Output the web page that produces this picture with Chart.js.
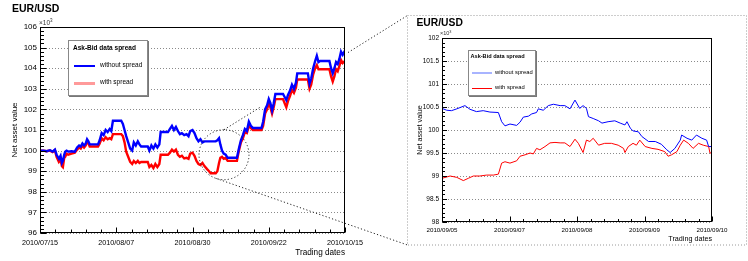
<!DOCTYPE html>
<html>
<head>
<meta charset="utf-8">
<script src="https://cdn.jsdelivr.net/npm/chart.js@4/dist/chart.umd.min.js"></script>
<style>
  body { margin: 0; background: #fff; }
  #wrap { position: relative; width: 748px; height: 261px; overflow: hidden; background: #fff;
          font-family: "Liberation Sans", Arial, sans-serif; color: #000; }
  canvas { position: absolute; }
  .t { position: absolute; white-space: nowrap; line-height: 1; }
  .box { position: absolute; background: #fff; border: 1px solid #888; box-shadow: 1px 1px 0 #777; }
  .sample { position: absolute; }
  sup { font-size: 70%; vertical-align: 0; position: relative; top: -0.6em; }
</style>
</head>
<body>
<div id="wrap">
  <canvas id="main" width="374" height="261" style="left:0;top:0"></canvas>
  <canvas id="inset" width="340" height="230" style="left:407px;top:15px"></canvas>
  <canvas id="overlay" width="748" height="261" style="left:0;top:0;pointer-events:none"></canvas>

  <div class="t" style="left:12px;top:2.6px;font-size:10.5px;font-weight:bold">EUR/USD</div>
  <div class="t" style="left:39px;top:20px;font-size:6.5px;color:#333">&times;10<sup>3</sup></div>
  <div class="box" style="left:68px;top:40px;width:78px;height:54px"></div>
  <div class="t" style="left:73px;top:44.6px;font-size:6.5px;font-weight:bold">Ask-Bid data spread</div>
  <div class="sample" style="left:74px;top:65px;width:21px;height:1.5px;background:#0000ff"></div>
  <div class="t" style="left:100px;top:62px;font-size:6.5px">without spread</div>
  <div class="sample" style="left:74px;top:81.5px;width:21px;height:3px;background:#ff9a9a"></div>
  <div class="t" style="left:100px;top:79px;font-size:6.5px">with spread</div>

  <div class="t" style="left:416.5px;top:18px;font-size:10.3px;font-weight:bold">EUR/USD</div>
  <div class="t" style="left:440px;top:31px;font-size:5.5px;color:#333">&times;10<sup>3</sup></div>
  <div class="box" style="left:468px;top:50px;width:66px;height:44px"></div>
  <div class="t" style="left:470.5px;top:53.6px;font-size:5.6px;font-weight:bold">Ask-Bid data spread</div>
  <div class="sample" style="left:472px;top:71.5px;width:20px;height:2.5px;background:#a8b4ff"></div>
  <div class="t" style="left:495px;top:69.5px;font-size:5.8px">without spread</div>
  <div class="sample" style="left:472px;top:88px;width:20px;height:1px;background:#ff0000"></div>
  <div class="t" style="left:495px;top:85px;font-size:5.8px">with spread</div>
</div>
<script>
// ---- data ----
const mainTickLabels = ["2010/07/15", "2010/08/07", "2010/08/30", "2010/09/22", "2010/10/15"];
const insetTickLabels = ["2010/09/05", "2010/09/07", "2010/09/08", "2010/09/09", "2010/09/10"];

// days since 2010/07/15
const mainDays = [0,1,2,3,3.8,4.5,5,5.7,6.2,6.6,
  6.9,7.3,7.6,8,8.5,9.5,10.5,11.2,11.8,12.3,
  12.8,13.3,13.8,14.2,14.6,15,17.5,18,18.6,19.2,
  19.8,20.4,21,21.5,22,24.5,25,25.5,26,26.6,
  27.2,27.8,28.3,28.9,29.5,30,30.5,32.5,33,33.6,
  34.2,34.8,35.4,36,36.4,38.6,39.2,39.8,40.4,41,
  41.6,42.2,42.8,43.5,44.2,44.8,45.3,46,46.6,47.2,
  47.8,48.4,49,49.6,50.4,51,51.5,53,53.5,54,
  54.4,54.9,55.4,56,56.6,59.4,60,60.6,61.2,61.8,
  62.4,63,63.6,64.2,66.8,67.3,67.9,68.5,69,69.5,
  70,70.5,71,73.3,73.8,74.3,74.8,75.4,76,76.6,
  77.2,77.6,80.8,81.3,81.8,82.4,83,83.5,84,84.5,
  87.3,87.8,88.3,88.8,89.3,89.8,90.3,90.8,91.3,92];
const mainNoSpread = [100.0,100.0,99.97,100.02,99.95,100.05,99.8,99.6,99.75,99.4,
  99.5,99.8,99.95,100.0,99.95,99.97,99.95,100.15,100.25,100.2,
  100.35,100.25,100.35,100.55,100.45,100.3,100.3,100.5,100.85,100.75,
  101.0,100.9,101.05,100.95,101.45,101.45,101.3,101.0,100.7,100.4,
  100.1,100.0,100.4,100.25,100.45,100.3,100.2,100.2,100.0,100.25,
  100.1,100.3,100.15,100.3,100.9,100.9,101.05,101.2,101.0,101.15,
  100.95,100.8,100.85,100.75,100.8,100.7,100.95,101.0,100.85,100.6,
  100.45,100.55,100.4,100.45,100.45,100.45,100.45,100.45,100.5,100.6,
  100.3,100.0,99.85,99.8,99.65,99.65,100.1,100.5,100.75,101.05,
  100.95,101.4,101.2,101.1,101.1,101.4,102.0,102.2,102.5,102.3,
  101.95,102.3,102.75,102.75,102.6,102.45,102.7,102.9,103.2,103.0,
  103.3,103.75,103.75,103.25,103.5,104.0,104.35,104.6,104.3,104.35,
  104.35,104.0,103.75,104.0,104.3,104.2,104.45,104.8,104.65,104.85];
const mainSpread = [100.0,100.0,99.97,100.0,99.93,100.02,99.7,99.45,99.55,99.25,
  99.2,99.65,99.7,99.85,99.8,99.85,99.9,100.05,100.15,100.1,
  100.25,100.15,100.25,100.45,100.35,100.2,100.2,100.35,100.6,100.5,
  100.65,100.55,100.6,100.55,100.8,100.8,100.7,100.4,99.95,99.7,
  99.45,99.35,99.5,99.4,99.5,99.4,99.45,99.45,99.2,99.3,
  99.15,99.35,99.2,99.35,99.8,99.8,99.9,100.05,99.95,100.05,
  99.8,99.7,99.75,99.62,99.65,99.6,99.85,99.9,99.75,99.5,
  99.35,99.3,99.4,99.25,99.1,99.0,98.9,98.9,99.0,99.4,
  99.65,99.7,99.6,99.65,99.5,99.5,100.0,100.4,100.6,100.9,
  100.85,101.2,101.1,101.0,101.0,101.2,101.8,102.0,102.3,102.1,
  101.8,102.1,102.5,102.5,102.3,102.1,102.4,102.65,102.95,102.8,
  103.05,103.45,103.45,103.0,103.2,103.7,104.0,104.15,103.95,103.95,
  103.95,103.6,103.35,103.6,103.95,103.85,104.1,104.4,104.25,104.35];

// inset: trading-day index, 0 = 2010/09/05 ... 4 = 2010/09/10
const insetTimeNoSpread = [0,0.07,0.14,0.22,0.34,0.415,0.51,0.61,0.71,0.835,
  0.884,0.933,1.007,1.106,1.156,1.205,1.28,1.33,1.40,1.427,
  1.5,1.575,1.65,1.75,1.82,1.896,1.97,2.04,2.09,2.14,
  2.17,2.24,2.32,2.37,2.46,2.56,2.64,2.71,2.74,2.79,
  2.83,2.91,2.96,3.06,3.16,3.25,3.33,3.38,3.45,3.53,
  3.55,3.63,3.70,3.77,3.85,3.92,3.95,4.0];
const insetNoSpread = [100.47,100.43,100.42,100.46,100.53,100.45,100.40,100.42,100.39,100.38,
  100.18,100.09,100.13,100.10,100.17,100.28,100.30,100.35,100.38,100.46,
  100.43,100.53,100.56,100.53,100.53,100.46,100.65,100.47,100.53,100.47,
  100.29,100.25,100.20,100.15,100.18,100.20,100.15,100.11,100.18,100.04,
  99.98,99.96,99.86,99.75,99.75,99.69,99.57,99.51,99.60,99.78,
  99.89,99.82,99.78,99.89,99.82,99.78,99.64,99.64];
const insetTimeSpread = [0,0.12,0.22,0.316,0.39,0.464,0.56,0.66,0.76,0.835,
  0.884,0.933,1.007,1.106,1.156,1.23,1.304,1.353,1.40,1.45,
  1.526,1.6,1.674,1.75,1.82,1.896,1.97,2.02,2.09,2.14,
  2.19,2.24,2.32,2.41,2.51,2.61,2.69,2.71,2.76,2.83,
  2.88,2.93,3.01,3.11,3.2,3.3,3.35,3.4,3.48,3.53,
  3.58,3.65,3.72,3.8,3.87,3.95,3.97,4.0];
const insetSpread = [98.95,99.0,98.97,98.9,98.95,99.0,99.0,99.02,99.02,99.04,
  99.28,99.31,99.28,99.33,99.43,99.46,99.5,99.48,99.6,99.57,
  99.64,99.72,99.73,99.72,99.72,99.64,99.8,99.71,99.51,99.78,
  99.75,99.82,99.67,99.71,99.71,99.67,99.6,99.51,99.64,99.71,
  99.67,99.78,99.64,99.6,99.58,99.53,99.43,99.46,99.53,99.67,
  99.78,99.71,99.6,99.71,99.67,99.64,99.5,99.5];

// ---- helpers ----
Chart.defaults.font.family = '"Liberation Sans", Arial, sans-serif';
Chart.defaults.color = "#000";

function pairs(xs, ys) {
  return xs.map((x, i) => ({ x, y: ys[i] }));
}

// ROOT style frame: dotted horizontal grid, box, inner major/minor ticks
const rootFrame = {
  id: "rootFrame",
  beforeDatasetsDraw(chart, args, o) {
    const { ctx, chartArea: a, scales: { y } } = chart;
    ctx.save();
    ctx.strokeStyle = "#8a8a8a";
    ctx.lineWidth = 1;
    ctx.setLineDash([1, 2]);
    y.ticks.forEach(t => {
      const py = Math.round(y.getPixelForValue(t.value)) + 0.5;
      ctx.beginPath();
      ctx.moveTo(a.left, py);
      ctx.lineTo(a.right, py);
      ctx.stroke();
    });
    ctx.restore();
  },
  afterDraw(chart, args, o) {
    const { ctx, chartArea: a, scales: { x, y } } = chart;
    const L = Math.round(a.left) + 0.5, R = Math.round(a.right) - 0.5;
    const T = Math.round(a.top) + 0.5, B = Math.round(a.bottom) - 0.5;
    ctx.save();
    ctx.strokeStyle = "#000";
    ctx.lineWidth = 1;
    ctx.strokeRect(L, T, R - L, B - T);
    ctx.beginPath();
    const ny = Math.round((y.max - y.min) / o.yStep * o.sub);
    for (let j = 0; j <= ny; j++) {
      const py = Math.round(y.getPixelForValue(y.min + j * o.yStep / o.sub)) + 0.5;
      const len = j % o.sub === 0 ? o.yMajor : o.yMinor;
      ctx.moveTo(L, py);
      ctx.lineTo(L + len, py);
    }
    const nx = Math.round((x.max - x.min) / o.xStep * o.sub);
    for (let j = 0; j <= nx; j++) {
      const px = Math.round(x.getPixelForValue(x.min + j * o.xStep / o.sub)) + 0.5;
      const len = j % o.sub === 0 ? o.xMajor : o.xMinor;
      ctx.moveTo(px, B);
      ctx.lineTo(px, B - len);
    }
    ctx.stroke();
    ctx.restore();
  }
};

// ---- main chart ----
const mainChart = new Chart(document.getElementById("main"), {
  type: "line",
  data: {
    datasets: [
      { label: "without spread", data: pairs(mainDays, mainNoSpread), borderColor: "#0000ff",
        borderWidth: 2.4, pointRadius: 0, tension: 0 },
      { label: "with spread", data: pairs(mainDays, mainSpread), borderColor: "#ff0000",
        borderWidth: 2.4, pointRadius: 0, tension: 0 }
    ]
  },
  options: {
    responsive: false,
    animation: false,
    devicePixelRatio: 1,
    layout: { padding: { left: 0, right: 29, top: 27, bottom: 0 } },
    plugins: {
      legend: { display: false },
      tooltip: { enabled: false },
      rootFrame: { sub: 5, xStep: 23, yStep: 1, xMajor: 5, xMinor: 3, yMajor: 6, yMinor: 3.5 }
    },
    scales: {
      x: {
        type: "linear", min: 0, max: 92,
        afterFit: s => { s.height = 28; },
        grid: { display: false, drawTicks: false }, border: { display: false },
        ticks: { stepSize: 23, autoSkip: false, maxRotation: 0, padding: 6, font: { size: 7.2 },
                 callback: v => mainTickLabels[Math.round(v / 23)] },
        title: { display: true, text: "Trading dates", align: "end", font: { size: 8.2 },
                 padding: { top: 0, bottom: 3 } }
      },
      y: {
        min: 96, max: 106,
        afterFit: s => { s.width = 40; },
        grid: { display: false, drawTicks: false }, border: { display: false },
        ticks: { stepSize: 1, padding: 3, font: { size: 8 }, callback: v => String(v) },
        title: { display: true, text: "Net asset value", font: { size: 8 },
                 padding: { top: 10, bottom: 0 } }
      }
    }
  },
  plugins: [rootFrame]
});

// ---- inset chart ----
const insetChart = new Chart(document.getElementById("inset"), {
  type: "line",
  data: {
    datasets: [
      { label: "without spread", data: pairs(insetTimeNoSpread, insetNoSpread), borderColor: "#0000ff",
        borderWidth: 1, pointRadius: 0, tension: 0 },
      { label: "with spread", data: pairs(insetTimeSpread, insetSpread), borderColor: "#ff0000",
        borderWidth: 1, pointRadius: 0, tension: 0 }
    ]
  },
  options: {
    responsive: false,
    animation: false,
    devicePixelRatio: 1,
    layout: { padding: { left: 0, right: 35, top: 23, bottom: 0 } },
    plugins: {
      legend: { display: false },
      tooltip: { enabled: false },
      rootFrame: { sub: 5, xStep: 1, yStep: 0.5, xMajor: 5, xMinor: 2.5, yMajor: 4.5, yMinor: 2.5 }
    },
    scales: {
      x: {
        type: "linear", min: 0, max: 4,
        afterFit: s => { s.height = 23; },
        grid: { display: false, drawTicks: false }, border: { display: false },
        ticks: { stepSize: 1, autoSkip: false, maxRotation: 0, padding: 5, font: { size: 6.2 },
                 callback: v => insetTickLabels[Math.round(v)] },
        title: { display: true, text: "Trading dates", align: "end", font: { size: 7.2 },
                 padding: { top: 0, bottom: 2 } }
      },
      y: {
        min: 98, max: 102,
        afterFit: s => { s.width = 35; },
        grid: { display: false, drawTicks: false }, border: { display: false },
        ticks: { stepSize: 0.5, padding: 3, font: { size: 6.5 }, callback: v => String(+v.toFixed(1)) },
        title: { display: true, text: "Net asset value", font: { size: 7.2 },
                 padding: { top: 8.7, bottom: 0 } }
      }
    }
  },
  plugins: [rootFrame]
});

// ---- zoom circle, dotted box and connectors ----
const ov = document.getElementById("overlay").getContext("2d");
const mx = mainChart.scales.x, my = mainChart.scales.y;
const cx = mx.getPixelForValue(55.5), cy = my.getPixelForValue(99.8), r = 25;
const bx = 407.5, by = 15.5, bw = 339, bh = 229.5;

ov.lineWidth = 1;
ov.strokeStyle = "#9a9a9a";
ov.setLineDash([1, 2]);
ov.strokeRect(bx, by, bw, bh);

ov.strokeStyle = "#222";
ov.setLineDash([1.2, 2.2]);
ov.beginPath();
ov.arc(cx, cy, r, 0, Math.PI * 2);
ov.stroke();

function dottedPart(x0, y0, x1, y1, fromX, toX) {
  const k = (y1 - y0) / (x1 - x0);
  ov.beginPath();
  ov.moveTo(fromX, y0 + k * (fromX - x0));
  ov.lineTo(toX, y0 + k * (toX - x0));
  ov.stroke();
}
// upper connector (partly hidden behind the curves, as in the original)
dottedPart(cx, cy - r, bx, by, cx, 260);
dottedPart(cx, cy - r, bx, by, mx.right + 3, bx);
// lower connector
const bxs = cx + r * Math.cos(1.88), bys = cy + r * Math.sin(1.88);
dottedPart(bxs, bys, bx, by + bh, bxs, bx);
</script>
</body>
</html>
